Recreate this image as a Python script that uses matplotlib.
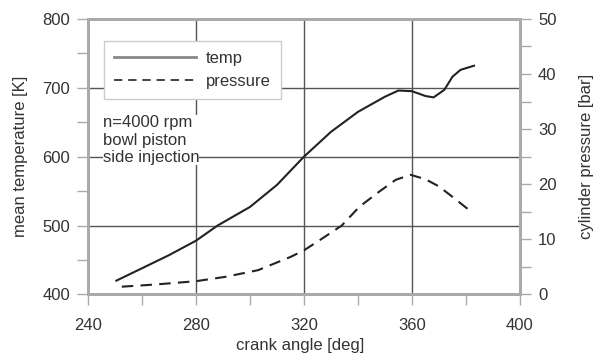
import matplotlib.pyplot as plt
from matplotlib.ticker import MultipleLocator
from matplotlib.lines import Line2D

plt.rcParams['font.family'] = ['Liberation Sans', 'DejaVu Sans']

# temperature curve
temp_angle = [250.5, 260, 270, 280, 288, 300, 310, 320, 330, 340, 350, 355, 360,
              365, 368, 372, 375, 378, 383]
temp_K = [420, 438, 457, 478, 500, 527, 559, 600, 636, 665, 687, 696, 695,
          688, 686, 697, 716, 726, 732]

# cylinder pressure curve
pres_angle = [252.5, 265, 280, 291, 303, 315, 320, 326, 334, 340.5, 348, 354, 359.5,
              365, 370, 375, 382.5]
pres_bar = [1.4, 1.8, 2.4, 3.2, 4.4, 6.8, 8.0, 9.9, 12.5, 15.9, 18.7, 20.8, 21.7,
            20.9, 19.6, 17.7, 14.8]

FS = 12
TXT = '#333333'

fig = plt.figure(figsize=(5.99, 3.56), dpi=100)
ax = fig.add_axes([0.147, 0.173, 0.721, 0.774])
ax2 = ax.twinx()

ax.plot(temp_angle, temp_K, color='#222222', lw=1.5)
ax2.plot(pres_angle, pres_bar, color='#222222', lw=1.5, ls=(0, (5.5, 3.5)))

ax.set_xlim(240, 400)
ax.set_ylim(400, 800)
ax2.set_ylim(0, 50)
ax.xaxis.set_major_locator(MultipleLocator(40))
ax.xaxis.set_minor_locator(MultipleLocator(20))
ax.yaxis.set_major_locator(MultipleLocator(100))
ax.yaxis.set_minor_locator(MultipleLocator(50))
ax2.yaxis.set_major_locator(MultipleLocator(10))
ax2.yaxis.set_minor_locator(MultipleLocator(5))

ax.grid(True, which='major', color='#555555', lw=1)
ax.set_axisbelow(True)

for a in (ax, ax2):
    for s in a.spines.values():
        s.set_color('#aaaaaa')
        s.set_linewidth(2)
    a.tick_params(which='both', color='#aaaaaa', width=1, length=8,
                  labelsize=FS, labelcolor=TXT, pad=5)
ax.tick_params(axis='x', which='both', pad=9)

ax.set_xlabel('crank angle [deg]', fontsize=FS, color=TXT)
ax.xaxis.set_label_coords(0.49, -0.16)
ax.set_ylabel('mean temperature [K]', fontsize=FS, color=TXT, labelpad=10)
ax2.set_ylabel('cylinder pressure [bar]', fontsize=FS, color=TXT, labelpad=16)

handles = [Line2D([], [], color='#888888', lw=2),
           Line2D([], [], color='#222222', lw=1.2, ls=(0, (5, 3.5)))]
leg = ax.legend(handles, ['temp', 'pressure'], loc='upper left',
                bbox_to_anchor=(0.018, 0.95), fontsize=FS, fancybox=False,
                framealpha=1, edgecolor='#cccccc', handlelength=4.9,
                handletextpad=0.6, borderpad=0.6, labelspacing=0.5)
for t in leg.get_texts():
    t.set_color(TXT)

ax.text(0.034, 0.65, 'n=4000 rpm\nbowl piston\nside injection', transform=ax.transAxes,
        fontsize=FS, color=TXT, va='top', linespacing=1.2,
        bbox=dict(facecolor='white', edgecolor='none', pad=0))

fig.savefig('out.png', dpi=100)
